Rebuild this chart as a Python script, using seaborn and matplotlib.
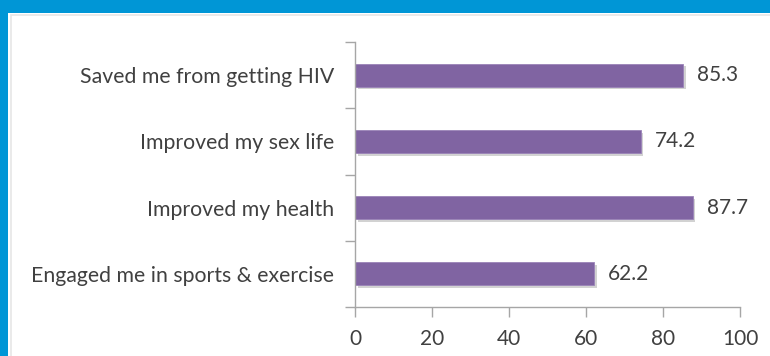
import matplotlib
matplotlib.use("Agg")
import matplotlib.pyplot as plt
import matplotlib.patheffects as pe
from matplotlib.patches import Rectangle
import seaborn as sns
import pandas as pd

categories = [
    "Saved me from getting HIV",
    "Improved my sex life",
    "Improved my health",
    "Engaged me in sports & exercise",
]
values = [85.3, 74.2, 87.7, 62.2]
xticks = [0, 20, 40, 60, 80, 100]

df = pd.DataFrame({"category": categories, "value": values})

sns.set_theme(style="white")
plt.rcParams["font.family"] = ["Lato", "DejaVu Sans"]

fig = plt.figure(figsize=(7.70, 3.56), dpi=100)
fig.patch.set_facecolor("#0096d6")

# white panel inside the blue frame
W, H = 770, 356
fig.patches.append(Rectangle((8 / W, 0), 1, (H - 13) / H, transform=fig.transFigure,
                             facecolor="white", edgecolor="none", zorder=-2))
fig.patches.append(Rectangle((11 / W, -0.01), 1, (H - 15) / H + 0.01, transform=fig.transFigure,
                             facecolor="none", edgecolor="#e6e6e6", linewidth=1.2, zorder=-1))

ax = fig.add_axes([355 / W, 1 - 307 / H, (740 - 355) / W, (307 - 42) / H])
ax.set_zorder(2)
ax.set_facecolor("none")

sns.barplot(data=df, x="value", y="category", orient="h", color="#8064a2",
            width=0.35, saturation=1, ax=ax)

for patch in ax.patches:
    patch.set_edgecolor("#9a83b8")
    patch.set_linewidth(0.6)
    patch.set_path_effects([
        pe.SimplePatchShadow(offset=(2, -2), shadow_rgbFace="#7f7f7f", alpha=0.35),
        pe.Normal(),
    ])

for i, v in enumerate(values):
    ax.text(v + 3.6, i, f"{v:.1f}", va="center", ha="left",
            fontsize=15, color="#404040")

ax.set_xlim(0, 100)
ax.set_ylim(3.5, -0.5)
ax.set_xticks(xticks)
ax.set_xticklabels([str(t) for t in xticks], fontsize=15, color="#404040")
ax.set_xlabel("")
ax.set_ylabel("")

ax.set_yticks(range(len(categories)))
ax.set_yticklabels(categories, fontsize=15.3, color="#404040")
ax.set_yticks([-0.5, 0.5, 1.5, 2.5, 3.5], minor=True)
ax.tick_params(axis="y", which="major", length=0, pad=15)
ax.tick_params(axis="y", which="minor", length=7, width=1, color="#a6a6a6", left=True)
ax.tick_params(axis="x", which="major", length=7, width=1, color="#a6a6a6",
               bottom=True, pad=9)

for side in ["top", "right"]:
    ax.spines[side].set_visible(False)
for side in ["left", "bottom"]:
    ax.spines[side].set_color("#a6a6a6")
    ax.spines[side].set_linewidth(1)

fig.savefig("out.png", dpi=100, facecolor=fig.get_facecolor())
